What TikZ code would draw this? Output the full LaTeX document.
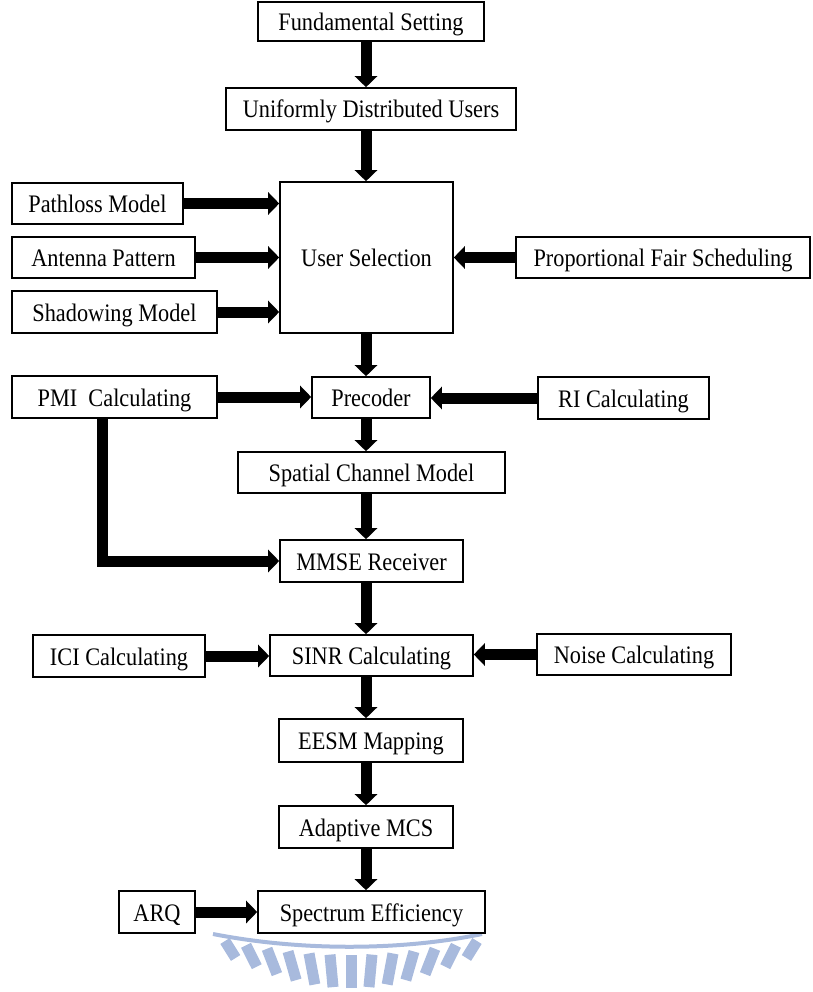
\documentclass[tikz,border=0pt]{standalone}
\usepackage{fontspec}
\usepackage{graphicx}
\setmainfont{Liberation Serif}
\usetikzlibrary{arrows.meta}
\definecolor{wm}{RGB}{168,186,221}
\newcommand\vst[1]{\scalebox{1}[1.13]{#1}}
\begin{document}
\begin{tikzpicture}[x=1pt,y=-1pt,
  box/.style={draw=black,line width=1.6pt,fill=white,inner sep=0pt,
    text height=19pt,text depth=1pt,
    font=\fontsize{22.3}{26}\selectfont},
  blk/.style={line width=11pt,-{Triangle[length=11pt,width=22pt]}}]
\useasboundingbox (0,0) rectangle (812,992);
% watermark
\draw[wm,line width=4pt] (213,934) .. controls (300,951) and (400,951) .. (482,934);
\foreach \i in {0,...,12}{
  \pgfmathsetmacro\t{(\i-6)/6}
  \pgfmathsetmacro\xx{351+126*\t}
  \pgfmathsetmacro\yy{955-14*\t*\t}
  \pgfmathsetmacro\LL{33-13*\t*\t}
  \pgfmathsetmacro\aa{-32*\t}
  \draw[wm,line width=11pt] (\xx,\yy) -- ++({\LL*sin(\aa)},{\LL*cos(\aa)});
}
% nodes
\node[box,minimum width=226,minimum height=39] (fund) at (371,21.5) {\vst{Fundamental Setting}};
\node[box,minimum width=290,minimum height=42] (unif) at (371,109) {\vst{Uniformly Distributed Users}};
\node[box,minimum width=173,minimum height=151] (usel) at (366.5,257.5) {\vst{User Selection}};
\node[box,minimum width=171,minimum height=41] (path) at (97.5,203.5) {\vst{Pathloss Model}};
\node[box,minimum width=183,minimum height=41] (ant) at (103.5,257.5) {\vst{Antenna Pattern}};
\node[box,minimum width=205,minimum height=42] (shad) at (114.5,312) {\vst{Shadowing Model}};
\node[box,minimum width=294,minimum height=41] (pfs) at (663,257.5) {\vst{Proportional Fair Scheduling}};
\node[box,minimum width=118,minimum height=41] (prec) at (371,397.5) {\vst{Precoder}};
\node[box,minimum width=205,minimum height=42] (pmi) at (114.5,397) {\vst{PMI\ \ Calculating}};
\node[box,minimum width=171,minimum height=42] (ri) at (623.5,398) {\vst{RI Calculating}};
\node[box,minimum width=267,minimum height=41] (scm) at (371.5,472.5) {\vst{Spatial Channel Model}};
\node[box,minimum width=183,minimum height=42] (mmse) at (371.5,561) {\vst{MMSE Receiver}};
\node[box,minimum width=203,minimum height=41] (sinr) at (371.5,655.5) {\vst{SINR Calculating}};
\node[box,minimum width=172,minimum height=42] (ici) at (119,656) {\vst{ICI Calculating}};
\node[box,minimum width=194,minimum height=41] (noise) at (634,654.5) {\vst{Noise Calculating}};
\node[box,minimum width=184,minimum height=43] (eesm) at (371,740.5) {\vst{EESM Mapping}};
\node[box,minimum width=174,minimum height=42] (amcs) at (366,827) {\vst{Adaptive MCS}};
\node[box,minimum width=227,minimum height=42] (spec) at (371.5,912) {\vst{Spectrum Efficiency}};
\node[box,minimum width=76,minimum height=42] (arq) at (157,912) {\vst{ARQ}};
% helper coordinates
\coordinate (vx) at (366,0);
\coordinate (pmx) at (102,0);
% vertical arrows
\draw[blk] (fund.south -| vx) -- (unif.north -| vx);
\draw[blk] (unif.south -| vx) -- (usel.north -| vx);
\draw[blk] (usel.south -| vx) -- (prec.north -| vx);
\draw[blk] (prec.south -| vx) -- (scm.north -| vx);
\draw[blk] (scm.south -| vx) -- (mmse.north -| vx);
\draw[blk] (mmse.south -| vx) -- (sinr.north -| vx);
\draw[blk] (sinr.south -| vx) -- (eesm.north -| vx);
\draw[blk] (eesm.south -| vx) -- (amcs.north -| vx);
\draw[blk] (amcs.south -| vx) -- (spec.north -| vx);
% horizontal arrows
\draw[blk] (path.east) -- (path.east -| usel.west);
\draw[blk] (ant.east) -- (ant.east -| usel.west);
\draw[blk] (shad.east) -- (shad.east -| usel.west);
\draw[blk] (pfs.west) -- (pfs.west -| usel.east);
\draw[blk] (pmi.east) -- (pmi.east -| prec.west);
\draw[blk] (ri.west) -- (ri.west -| prec.east);
\draw[blk] (pmi.south -| pmx) |- (mmse.west);
\draw[blk] (ici.east) -- (ici.east -| sinr.west);
\draw[blk] (noise.west) -- (noise.west -| sinr.east);
\draw[blk] (arq.east) -- (arq.east -| spec.west);
\end{tikzpicture}
\end{document}
